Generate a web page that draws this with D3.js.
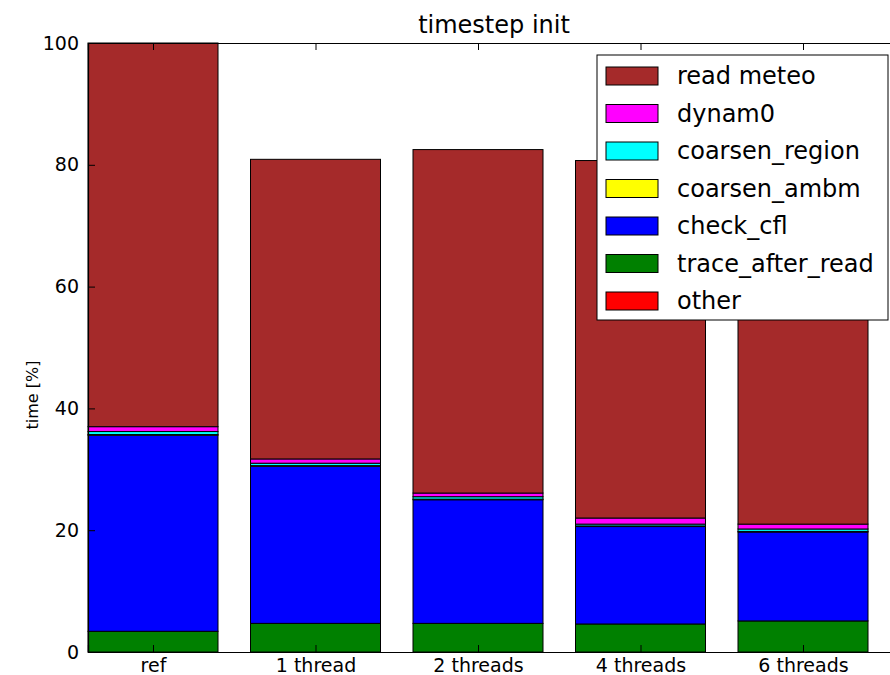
<!DOCTYPE html>
<html>
<head>
<meta charset="utf-8">
<script src="https://cdn.jsdelivr.net/npm/d3@7"></script>
<style>
  html, body { margin: 0; padding: 0; background: #fff; }
  svg { display: block; font-family: "DejaVu Sans", sans-serif; }
</style>
</head>
<body>
<div id="chart"></div>
<script>
// categories along x
const categories = ["ref", "1 thread", "2 threads", "4 threads", "6 threads"];

// series values (bottom to top of the stack)
const other          = [0.0, 0.0, 0.0, 0.0, 0.0];
const traceAfterRead = [3.4, 4.7, 4.7, 4.6, 5.1];
const checkCfl       = [32.2, 25.8, 20.3, 16.0, 14.6];
const coarsenAmbm    = [0.1, 0.1, 0.1, 0.1, 0.1];
const coarsenRegion  = [0.5, 0.4, 0.4, 0.3, 0.4];
const dynam0         = [0.8, 0.7, 0.6, 1.0, 0.8];
const readMeteo      = [63.0, 49.2, 56.4, 58.7, 60.0];

const yTicks = [0, 20, 40, 60, 80, 100];

// stack order, bottom first
const series = [
  { name: "other",            values: other,          color: "#ff0000" },
  { name: "trace_after_read", values: traceAfterRead, color: "#008000" },
  { name: "check_cfl",        values: checkCfl,       color: "#0000ff" },
  { name: "coarsen_ambm",     values: coarsenAmbm,    color: "#ffff00" },
  { name: "coarsen_region",   values: coarsenRegion,  color: "#00ffff" },
  { name: "dynam0",           values: dynam0,         color: "#ff00ff" },
  { name: "read meteo",       values: readMeteo,      color: "#a52a2a" }
];

const W = 890, H = 675;
const margin = { top: 43, right: -10.5, bottom: 23, left: 88 };
const width = W - margin.left - margin.right;   // axes extends slightly past the window
const height = H - margin.top - margin.bottom;

const svg = d3.select("#chart").append("svg")
  .attr("width", W)
  .attr("height", H);

const g = svg.append("g")
  .attr("transform", `translate(${margin.left},${margin.top})`);

const x = d3.scaleLinear().domain([-0.4, 4.6]).range([0, width]);
const y = d3.scaleLinear().domain([0, 100]).range([height, 0]);
const barW = x(0.8) - x(0);

// build stacked table
const table = categories.map((c, i) => {
  const row = { cat: c, idx: i };
  series.forEach(s => { row[s.name] = s.values[i]; });
  return row;
});
const stacked = d3.stack().keys(series.map(s => s.name))(table);

stacked.forEach((layer, k) => {
  g.append("g")
    .selectAll("rect")
    .data(layer)
    .join("rect")
    .attr("x", d => x(d.data.idx) - barW / 2)
    .attr("y", d => y(d[1]))
    .attr("width", barW)
    .attr("height", d => Math.max(0, y(d[0]) - y(d[1])))
    .attr("fill", series[k].color)
    .attr("stroke", "#000")
    .attr("stroke-width", 1);
});

// axes (ticks pointing inward, classic matplotlib)
const yAxis = g.append("g")
  .call(d3.axisLeft(y).tickValues(yTicks).tickSize(-7).tickPadding(9));
const yAxisR = g.append("g")
  .attr("transform", `translate(${width},0)`)
  .call(d3.axisRight(y).tickValues(yTicks).tickSize(-7).tickFormat(""));
const xAxis = g.append("g")
  .attr("transform", `translate(0,${height})`)
  .call(d3.axisBottom(x).tickValues(d3.range(categories.length))
    .tickFormat(i => categories[i]).tickSize(-7).tickPadding(7));
const xAxisT = g.append("g")
  .call(d3.axisTop(x).tickValues(d3.range(categories.length))
    .tickSize(-7).tickFormat(""));

[yAxis, yAxisR, xAxis, xAxisT].forEach(a => {
  a.select(".domain").attr("stroke", "#000").attr("stroke-width", 1.2);
  a.selectAll(".tick line").attr("stroke", "#000");
  a.selectAll(".tick text")
    .attr("fill", "#000")
    .style("font-family", "DejaVu Sans")
    .style("font-size", "19px");
});

// title and y label
svg.append("text")
  .attr("x", 494)
  .attr("y", 33)
  .attr("text-anchor", "middle")
  .style("font-size", "24px")
  .text("timestep init");

svg.append("text")
  .attr("transform", "translate(38,395) rotate(-90)")
  .attr("text-anchor", "middle")
  .style("font-size", "16px")
  .text("time [%]");

// legend (top entry = top of stack)
const legendItems = series.slice().reverse();
const lg = svg.append("g").attr("transform", "translate(597,55)");
lg.append("rect")
  .attr("width", 291)
  .attr("height", 265)
  .attr("fill", "#fff")
  .attr("stroke", "#000")
  .attr("stroke-width", 1);

const rowH = 37.5;
const items = lg.selectAll("g.item")
  .data(legendItems)
  .join("g")
  .attr("class", "item")
  .attr("transform", (d, i) => `translate(0,${21 + i * rowH})`);

items.append("rect")
  .attr("x", 9)
  .attr("y", -9)
  .attr("width", 52)
  .attr("height", 18)
  .attr("fill", d => d.color)
  .attr("stroke", "#000")
  .attr("stroke-width", 1);

items.append("text")
  .attr("x", 80)
  .attr("y", 0)
  .attr("dy", "0.35em")
  .style("font-size", "24px")
  .text(d => d.name);
</script>
</body>
</html>
